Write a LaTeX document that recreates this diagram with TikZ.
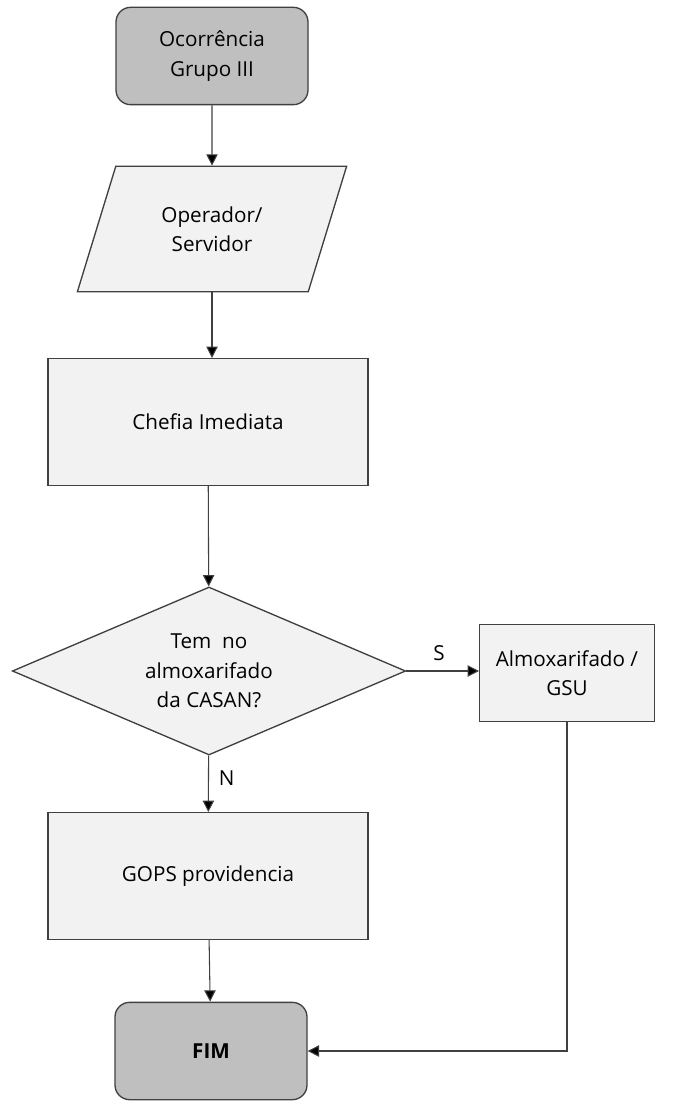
\documentclass[tikz,border=0pt]{standalone}
\usepackage{fontspec}
\setmainfont{Open Sans}
\usetikzlibrary{shapes.geometric, arrows.meta}
\definecolor{termgray}{HTML}{BFBFBF}
\definecolor{boxgray}{HTML}{F2F2F2}
\definecolor{linegray}{HTML}{404040}
\tikzstyle{startstop} = [rectangle, rounded corners=11pt, minimum width=144pt, minimum height=73pt, text centered, align=center, draw=linegray, line width=1pt, fill=termgray]
\tikzstyle{io} = [trapezium, trapezium left angle=66, trapezium right angle=114, trapezium stretches=true, minimum width=202pt, minimum height=94pt, inner sep=0pt, text centered, align=center, draw=linegray, line width=1pt, fill=boxgray]
\tikzstyle{process} = [rectangle, minimum width=240pt, minimum height=95pt, text centered, align=center, draw=linegray, line width=1pt, fill=boxgray]
\tikzstyle{decision} = [diamond, aspect=2.34, minimum width=295pt, minimum height=126pt, inner sep=0pt, text centered, align=center, draw=linegray, line width=1pt, fill=boxgray]
\tikzstyle{arrow} = [line width=0.8pt, draw=linegray, -{Triangle[length=8.5pt, width=8.5pt, fill=black]}]
\begin{document}
\begin{tikzpicture}[x=0.75pt, y=-0.75pt, font=\fontsize{15.5}{22}\selectfont]
            \useasboundingbox (0,0) rectangle (684,1102);
            \node [startstop] at (212,56) (start) {Ocorrência\\Grupo III};
            \node [io] at (212,229) (io1) {Operador/\\Servidor};
            \node [process] at (208,422) (chefia) {Chefia Imediata};
            \node [decision] at (209,671) (decision) {Tem\ \ no\\almoxarifado\\da CASAN?};
            \node [process, minimum width=131pt, minimum height=73pt] at (567,673) (almox) {Almoxarifado /\\GSU};
            \node [process] at (208,876) (gops) {GOPS providencia};
            \node [startstop] at (211,1051) (stop) {\textbf{FIM}};

            \draw [arrow] (start) -- (io1);
            \draw [arrow] (io1.south) -- (io1.south |- chefia.north);
            \draw [arrow] (chefia) -- (decision);
            \draw [arrow] (decision) -- node[anchor=west, pos=0.4, xshift=4pt] {N} (gops);
            \draw [arrow] (decision.east) -- node[anchor=south, pos=0.45, yshift=4pt] {S} (decision.east -| almox.west);
            \draw [arrow] (gops) -- (stop);
            \draw [arrow] (almox) |- (stop);
            \end{tikzpicture}
\end{document}
